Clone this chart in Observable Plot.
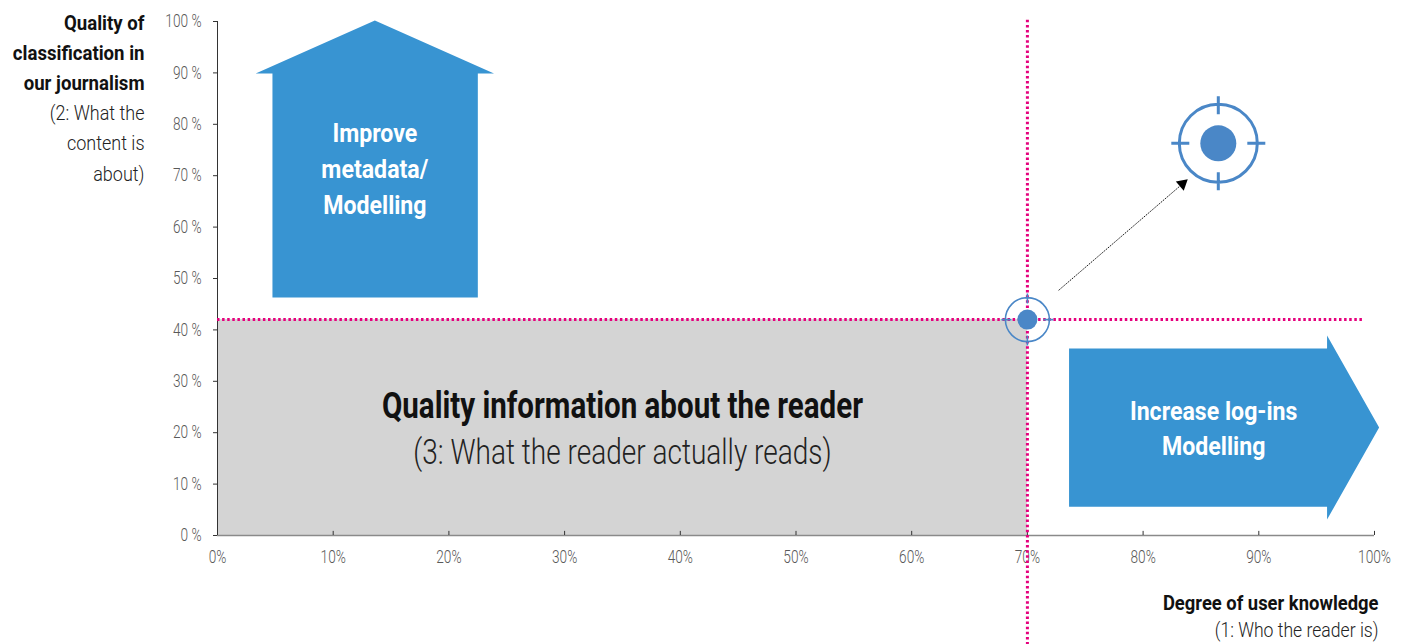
<!DOCTYPE html>
<html>
<head>
<meta charset="utf-8">
<script src="https://cdn.jsdelivr.net/npm/d3@7"></script>
<script src="https://cdn.jsdelivr.net/npm/@observablehq/plot@0.6"></script>
<style>
  html, body { margin: 0; padding: 0; background: #fff; }
  #chart svg { display: block; }
</style>
</head>
<body>
<div id="chart"></div>
<script>
// ---- data ----
const xTicks = [0, 10, 20, 30, 40, 50, 60, 70, 80, 90, 100];
const yTicks = [0, 10, 20, 30, 40, 50, 60, 70, 80, 90, 100];
const xTickLabels = xTicks.map(d => d + "%");
const yTickLabels = yTicks.map(d => d + " %");
const current = [{x: 70, y: 42}];      // where we are
const target = [{x: 86.5, y: 76.3}];   // where we want to be
const pathArrow = [{x1: 72.7, y1: 47.7, x2: 83.4, y2: 68.4}];
const upArrow = [[4.75, 46.3], [4.75, 89.9], [3.3, 89.9], [13.6, 100.2], [23.9, 89.9], [22.5, 89.9], [22.5, 46.3]];
const rightArrow = [[73.6, 36.4], [95.9, 36.4], [95.9, 38.9], [100.4, 21], [95.9, 3.1], [95.9, 5.6], [73.6, 5.6]];
const readerBox = [{x1: 0, x2: 70, y1: 0, y2: 42}];
const upText = [{x: 13.6, y: 71.7, text: "Improve\nmetadata/\nModelling"}];
const rightText = [{x: 86.1, y: 21.3, text: "Increase log-ins\nModelling"}];
const boxTitle = [{x: 35, y: 25.2, text: "Quality information about the reader"}];
const boxSub = [{x: 35, y: 16, text: "(3: What the reader actually reads)"}];
const yTitleBold = ["Quality of", "classification in", "our journalism"];
const yTitleLight = ["(2: What the", "content is", "about)"];
const xTitleBold = "Degree of user knowledge";
const xTitleLight = "(1: Who the reader is)";

// ---- style ----
const FONT = "Roboto, 'DejaVu Sans Condensed', sans-serif";
const BLUE = "#3894d2";
const TBLUE = "#4a87c7";
const MAGENTA = "#e5007d";
// horizontal squeeze per text class, to imitate a condensed face
const SQUEEZE = {"t-tick": 0.76, "t-boxtitle": 0.82, "t-boxsub": 0.8, "t-arrow": 0.89, "t-ytitle": 0.93, "t-ytitle-l": 0.9, "t-xtitle": 0.92, "t-xtitle-l": 0.88};

const W = 1404, H = 644, mL = 217, mR = 30, mT = 21, mB = 109;
const pxX = (W - mL - mR) / 100, pxY = (H - mT - mB) / 100;
const a = pathArrow[0];
const angle = Math.atan2((a.x2 - a.x1) * pxX, (a.y2 - a.y1) * pxY) * 180 / Math.PI;

function crosshair(inner, outer) {
  return {
    draw(ctx, size) {
      const r = Math.sqrt(size / Math.PI);
      ctx.moveTo(r, 0);
      ctx.arc(0, 0, r, 0, 2 * Math.PI);
      for (const [ux, uy] of [[1, 0], [-1, 0], [0, 1], [0, -1]]) {
        ctx.moveTo(ux * (r - inner), uy * (r - inner));
        ctx.lineTo(ux * (r + outer), uy * (r + outer));
      }
    }
  };
}

const yTitleMarks = [
  ...yTitleBold.map((t, i) => Plot.text([t], {frameAnchor: "top-left", lineAnchor: "middle", text: d => d, textAnchor: "end", dx: -73, dy: 2 + i * 30, fontSize: 20, fontWeight: "bold", fill: "#111", className: "t-ytitle"})),
  ...yTitleLight.map((t, i) => Plot.text([t], {frameAnchor: "top-left", lineAnchor: "middle", text: d => d, textAnchor: "end", dx: -73, dy: 92 + i * 30.5, fontSize: 20, fontWeight: 300, fill: "#222", className: "t-ytitle-l"}))
];

const chart = Plot.plot({
  width: W, height: H,
  marginLeft: mL, marginRight: mR, marginTop: mT, marginBottom: mB,
  style: {fontFamily: FONT, background: "#fff", overflow: "visible"},
  x: {domain: [0, 100]},
  y: {domain: [0, 100]},
  marks: [
    Plot.rect(readerBox, {x1: "x1", x2: "x2", y1: "y1", y2: "y2", fill: "#d4d4d4"}),
    Plot.line(upArrow, {x: d => d[0], y: d => d[1], fill: BLUE, stroke: "none"}),
    Plot.line(rightArrow, {x: d => d[0], y: d => d[1], fill: BLUE, stroke: "none"}),
    // axes
    Plot.ruleX([0], {y1: 0, y2: 100, stroke: "#333", strokeWidth: 1}),
    Plot.ruleY([0], {x1: 0, x2: 100, stroke: "#8a8a8a", strokeWidth: 1.5}),
    Plot.ruleX(xTicks, {y1: 0, y2: 0.8, stroke: "#333", strokeWidth: 1}),
    Plot.axisY(yTicks, {tickSize: 4, tickPadding: 12, tickFormat: (d, i) => yTickLabels[i], fontSize: 18, fontWeight: 300, fill: "#595959", stroke: "#333", label: null, className: "t-tick"}),
    Plot.axisX(xTicks, {tickSize: 0, tickPadding: 15, tickFormat: (d, i) => xTickLabels[i], fontSize: 18, fontWeight: 300, fill: "#595959", label: null, className: "t-tick"}),
    // dotted guides
    Plot.ruleY([current[0].y], {x1: 0, x2: 99, stroke: MAGENTA, strokeWidth: 3, strokeDasharray: "2.5 2.6"}),
    Plot.ruleX([current[0].x], {y1: -21.3, y2: 100.6, stroke: MAGENTA, strokeWidth: 3, strokeDasharray: "2.5 2.6"}),
    // current position
    Plot.dot(current, {x: "x", y: "y", r: 22, symbol: crosshair(6, 4), fill: "none", stroke: TBLUE, strokeWidth: 1.6}),
    Plot.dot(current, {x: "x", y: "y", r: 10, fill: TBLUE, stroke: "none"}),
    // target
    Plot.dot(target, {x: "x", y: "y", r: 39, symbol: crosshair(10, 8), fill: "none", stroke: TBLUE, strokeWidth: 3}),
    Plot.dot(target, {x: "x", y: "y", r: 18, fill: TBLUE, stroke: "none"}),
    // dotted arrow
    Plot.link(pathArrow, {x1: "x1", y1: "y1", x2: "x2", y2: "y2", stroke: "#111", strokeWidth: 1, strokeDasharray: "1.5 1"}),
    Plot.dot(pathArrow, {x: "x2", y: "y2", symbol: "triangle", r: 4.5, fill: "#000", stroke: "none", rotate: angle}),
    // texts
    Plot.text(upText, {x: "x", y: "y", text: "text", fill: "#fff", fontSize: 26, fontWeight: "bold", lineHeight: 1.385, className: "t-arrow"}),
    Plot.text(rightText, {x: "x", y: "y", text: "text", fill: "#fff", fontSize: 26, fontWeight: "bold", lineHeight: 1.35, className: "t-arrow"}),
    Plot.text(boxTitle, {x: "x", y: "y", text: "text", fill: "#111", fontSize: 36, fontWeight: "bold", className: "t-boxtitle"}),
    Plot.text(boxSub, {x: "x", y: "y", text: "text", fill: "#222", fontSize: 35, fontWeight: 300, className: "t-boxsub"}),
    ...yTitleMarks,
    Plot.text([xTitleBold], {frameAnchor: "bottom-right", lineAnchor: "middle", text: d => d, textAnchor: "end", dx: 4, dy: 68, fontSize: 20, fontWeight: "bold", fill: "#111", className: "t-xtitle"}),
    Plot.text([xTitleLight], {frameAnchor: "bottom-right", lineAnchor: "middle", text: d => d, textAnchor: "end", dx: 4, dy: 95, fontSize: 20, fontWeight: 300, fill: "#222", className: "t-xtitle-l"})
  ]
});
document.getElementById("chart").appendChild(chart);

// squeeze glyphs horizontally (condensed look)
for (const [cls, k] of Object.entries(SQUEEZE)) {
  chart.querySelectorAll("g." + cls + " text").forEach(t => {
    const spans = t.querySelectorAll("tspan");
    const items = spans.length ? Array.from(spans) : [t];
    items.forEach(el => {
      const w = el.getComputedTextLength();
      if (w > 0) {
        el.setAttribute("textLength", (w * k).toFixed(1));
        el.setAttribute("lengthAdjust", "spacingAndGlyphs");
      }
    });
  });
}
</script>
</body>
</html>
